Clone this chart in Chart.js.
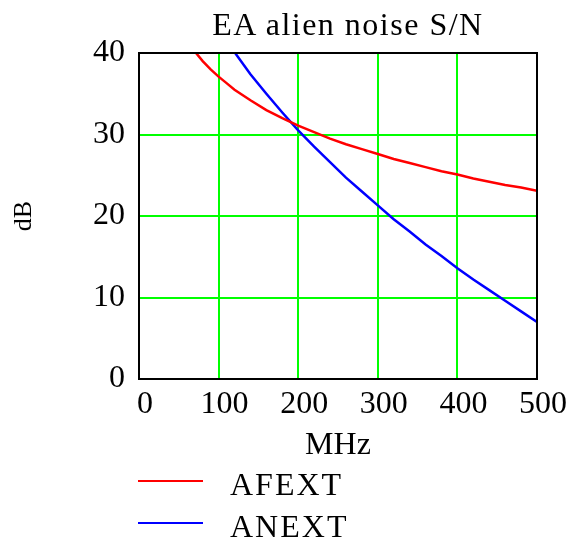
<!DOCTYPE html>
<html>
<head>
<meta charset="utf-8">
<script src="https://cdn.jsdelivr.net/npm/chart.js@4.4.0/dist/chart.umd.min.js"></script>
<style>
    body { margin: 0; background: #fff; }
    #wrap { position: relative; width: 570px; height: 539px; font-family: 'Liberation Serif', 'Times New Roman', serif; color: #000; }
    #noiseChart { position: absolute; left: 0; top: 0; }
    .txt { position: absolute; font-size: 32px; line-height: 32px; white-space: nowrap; }
    #title { left: 148px; width: 400px; top: 8px; text-align: center; letter-spacing: 1.5px; }
    .legLine { position: absolute; left: 138px; width: 65px; height: 2px; }
    .legTxt { left: 230px; letter-spacing: 2px; }
</style>
</head>
<body>
<div id="wrap">
    <canvas id="noiseChart" width="570" height="539"></canvas>
    <div class="txt" id="title">EA alien noise S/N</div>
    <div class="legLine" style="top:480px; background:#ff0000;"></div>
    <div class="txt legTxt" style="top:468px;">AFEXT</div>
    <div class="legLine" style="top:522px; background:#0000ff;"></div>
    <div class="txt legTxt" style="top:510px;">ANEXT</div>
</div>
<script>
// frequency (MHz) and S/N values (dB)
const freq = [70, 80, 90, 100, 110, 120, 140, 160, 180, 200, 220, 240, 260, 280, 300, 320, 340, 360, 380, 400, 420, 440, 460, 480, 500];
const afext = [40.2, 39.0, 38.0, 37.1, 36.3, 35.5, 34.2, 33.0, 32.0, 31.1, 30.3, 29.5, 28.8, 28.2, 27.6, 27.0, 26.5, 26.0, 25.5, 25.1, 24.6, 24.2, 23.8, 23.5, 23.1];
const anext = [null, null, null, null, null, 40.1, 37.4, 35.0, 32.7, 30.5, 28.5, 26.6, 24.7, 23.0, 21.3, 19.6, 18.1, 16.5, 15.1, 13.6, 12.2, 10.9, 9.6, 8.3, 7.0];
const xTicks = [0, 100, 200, 300, 400, 500];
const yTicks = [0, 10, 20, 30, 40];

const serif = 'Liberation Serif';

// black frame round the plot area
const frame = {
    id: 'frame',
    afterDraw(chart) {
        const a = chart.chartArea;
        const c = chart.ctx;
        c.save();
        c.strokeStyle = '#000';
        c.lineWidth = 2;
        c.strokeRect(a.left, a.top, a.right - a.left, a.bottom - a.top);
        c.restore();
    }
};

var ctx = document.getElementById('noiseChart').getContext('2d');

const noiseChart = new Chart(ctx, {
    type: 'line',
    data: {
        datasets: [{
            label: 'AFEXT',
            data: freq.map((f, i) => ({x: f, y: afext[i]})),
            borderColor: '#ff0000',
            borderWidth: 2.5,
            pointRadius: 0,
            clip: 0,
        }, {
            label: 'ANEXT',
            data: freq.map((f, i) => ({x: f, y: anext[i]})),
            borderColor: '#0000ff',
            borderWidth: 2.5,
            pointRadius: 0,
            clip: 0,
        }]
    },
    options: {
        responsive: false,
        animation: false,
        layout: { padding: { left: 0, top: 53, right: 33, bottom: 0 } },
        plugins: {
            legend: { display: false },
            title: { display: false },
            tooltip: { enabled: false }
        },
        scales: {
            x: {
                type: 'linear',
                min: 0,
                max: 500,
                afterBuildTicks: s => { s.ticks = xTicks.map(v => ({value: v})); },
                afterFit: s => { s.height = 160; },
                grid: { color: '#00ff00', lineWidth: 2, drawTicks: false },
                border: { display: false },
                ticks: {
                    color: '#000',
                    font: { family: serif, size: 32 },
                    padding: 6,
                    labelOffset: 6,
                    maxRotation: 0
                },
                title: {
                    display: true,
                    text: 'MHz',
                    color: '#000',
                    font: { family: serif, size: 32 },
                    padding: { top: 0, bottom: 74 }
                }
            },
            y: {
                min: 0,
                max: 40,
                afterBuildTicks: s => { s.ticks = yTicks.map(v => ({value: v})); },
                afterFit: s => { s.width = 139; },
                grid: { color: '#00ff00', lineWidth: 2, drawTicks: false },
                border: { display: false },
                ticks: {
                    color: '#000',
                    font: { family: serif, size: 32 },
                    padding: 14
                },
                title: {
                    display: true,
                    text: 'dB',
                    color: '#000',
                    font: { family: serif, size: 26 },
                    padding: { top: 8.6, bottom: 0 }
                }
            }
        }
    },
    plugins: [frame]
});
</script>
</body>
</html>
